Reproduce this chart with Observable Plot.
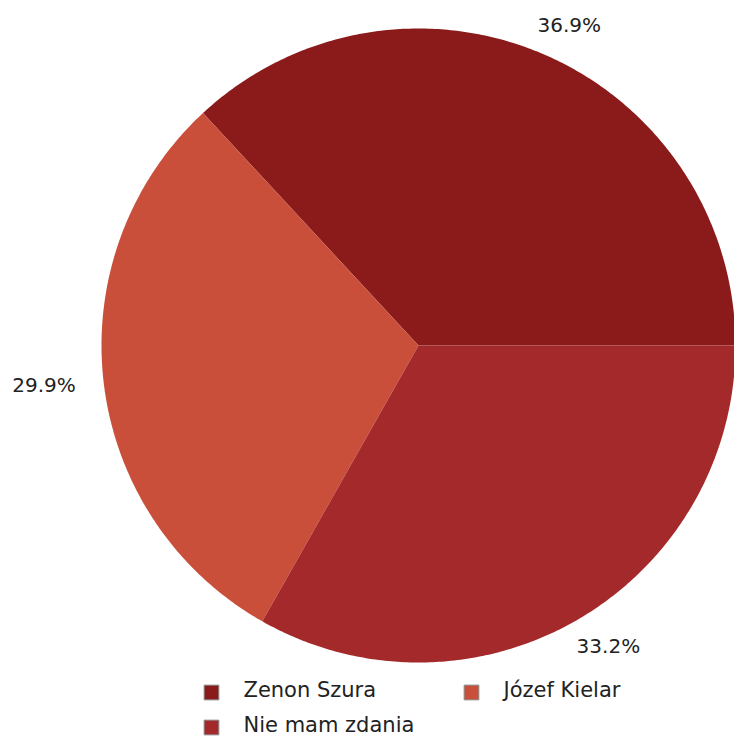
<!DOCTYPE html>
<html><head><meta charset="utf-8">
<script src="https://cdn.jsdelivr.net/npm/d3@7"></script>
<script src="https://cdn.jsdelivr.net/npm/@observablehq/plot@0.6"></script>
<style>body{margin:0;background:#fff;}svg{font-family:"DejaVu Sans";}</style>
</head><body><div id="chart"></div>
<script>
const categories = ["Zenon Szura", "Józef Kielar", "Nie mam zdania"];
const values = [36.9, 29.9, 33.2];
const labels = ["36.9%", "29.9%", "33.2%"];
const colors = ["#8b1a1a", "#c94f3a", "#a3292a"];

const W = 734, H = 738, cx = 418, cy = 345, R = 317, LR = 343;
const total = d3.sum(values);
let start = 0;
const slices = values.map((v, i) => {
  const a0 = start, a1 = start + v / total * 2 * Math.PI; start = a1;
  return {cat: categories[i], a0, a1, label: labels[i]};
});
const poly = [];
slices.forEach(s => {
  const n = Math.max(4, Math.ceil((s.a1 - s.a0) * 100));
  poly.push({cat: s.cat, x: cx, y: cy});
  for (let k = 0; k <= n; k++) {
    const a = s.a0 + (s.a1 - s.a0) * k / n;
    poly.push({cat: s.cat, x: cx + R * Math.cos(a), y: cy - R * Math.sin(a)});
  }
  poly.push({cat: s.cat, x: cx, y: cy});
});
const lab = slices.map(s => {
  const m = (s.a0 + s.a1) / 2, c = Math.cos(m), sn = Math.sin(m);
  return {label: s.label, x: cx + LR * c + 34 * c, y: cy - LR * sn - 6 * sn};
});
const legend = [
  {cat: categories[0], x: 211, y: 692},
  {cat: categories[1], x: 471, y: 692},
  {cat: categories[2], x: 211, y: 727}
];
const chart = Plot.plot({
  width: W, height: H, margin: 0,
  x: {type: "identity", axis: null}, y: {type: "identity", axis: null},
  color: {domain: categories, range: colors},
  marks: [
    Plot.line(poly, {x: "x", y: "y", z: "cat", fill: "cat", stroke: null}),
    Plot.text(lab, {x: "x", y: "y", text: "label", fontSize: 20, fill: "#222"}),
    Plot.dot(legend, {x: "x", y: "y", symbol: "square", r: 8.3, fill: "cat", stroke: "#8a8a8a", strokeWidth: 1}),
    Plot.text(legend, {x: d => d.x + 32, y: d => d.y - 2.5, text: "cat", textAnchor: "start", fontSize: 21, fill: "#222", style: "letter-spacing:0.5px"})
  ]
});
document.getElementById("chart").append(chart);
</script></body></html>
